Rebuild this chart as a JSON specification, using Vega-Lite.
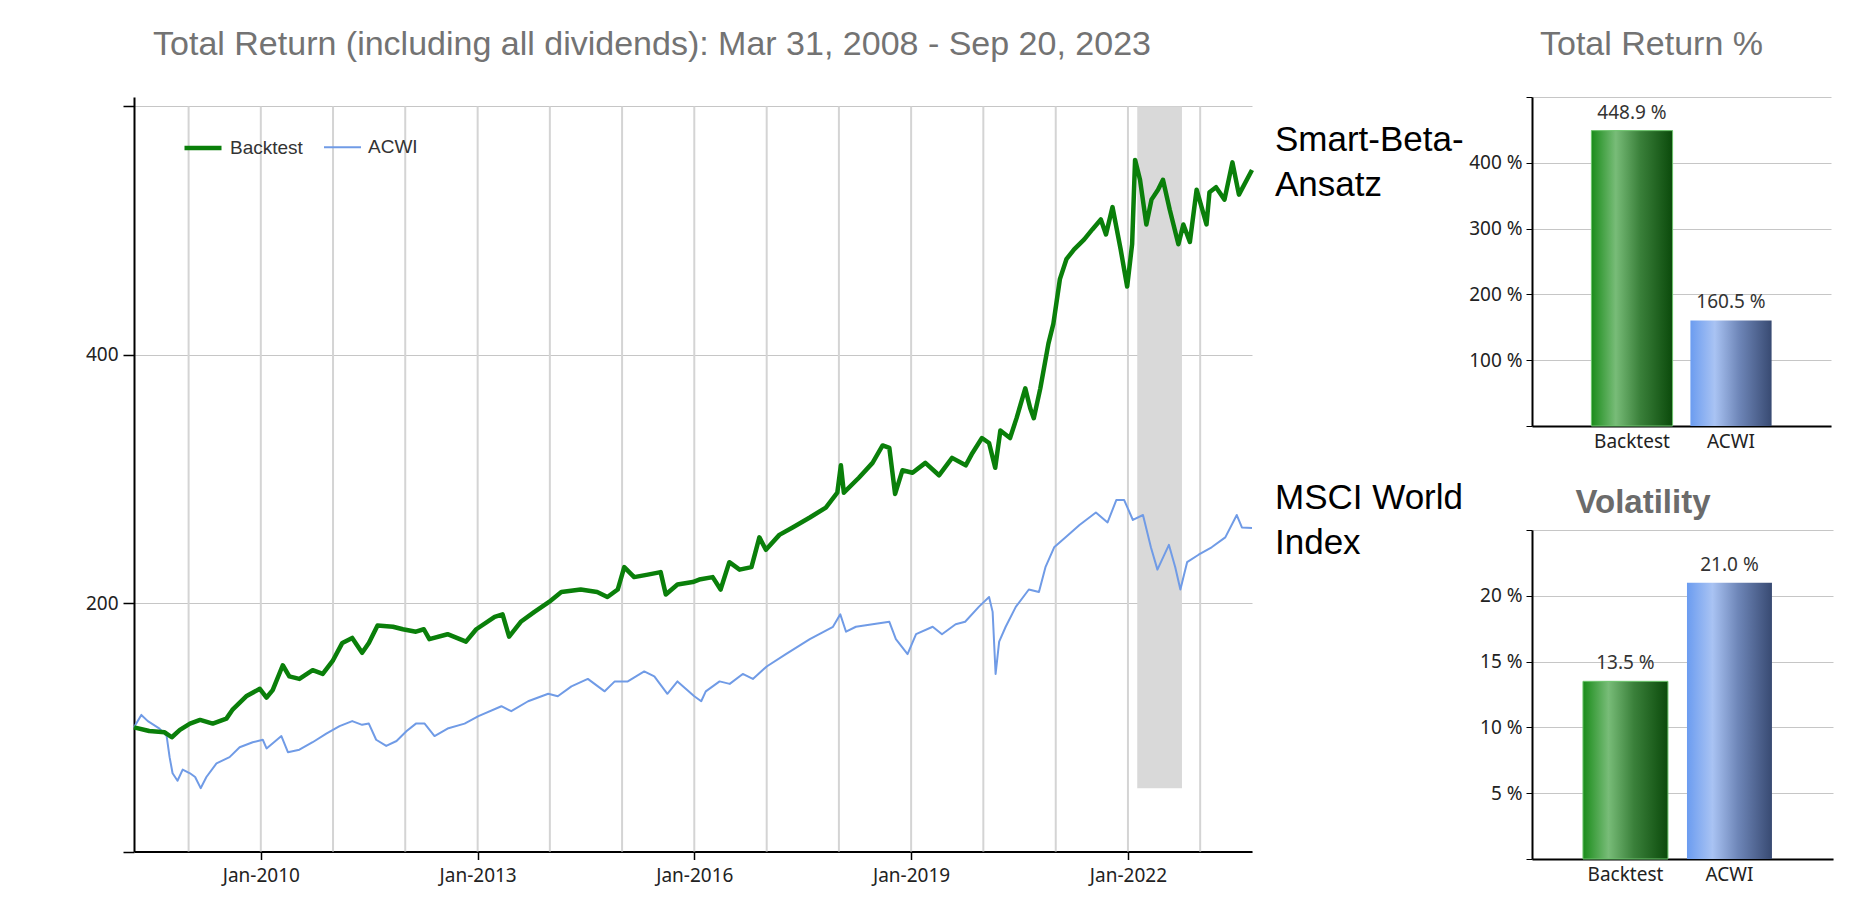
{
"$schema": "https://vega.github.io/schema/vega-lite/v6.json",
"background": "white",
"padding": {"left": 85, "top": 27, "right": 10, "bottom": 0},
"spacing": 4,
"align": "none",
"datasets": {
"years": [{"jan": "2009-01-01"}, {"jan": "2010-01-01"}, {"jan": "2011-01-01"}, {"jan": "2012-01-01"}, {"jan": "2013-01-01"}, {"jan": "2014-01-01"}, {"jan": "2015-01-01"}, {"jan": "2016-01-01"}, {"jan": "2017-01-01"}, {"jan": "2018-01-01"}, {"jan": "2019-01-01"}, {"jan": "2020-01-01"}, {"jan": "2021-01-01"}, {"jan": "2022-01-01"}, {"jan": "2023-01-01"}],
"band": [{"start": "2022-02-17", "end": "2022-10-01", "lo": 51, "hi": 600}],
"notes": [
{"series": "Backtest", "date": "2023-09-20", "value": 548.9, "note": "Smart-Beta-\nAnsatz"},
{"series": "ACWI", "date": "2023-09-20", "value": 260.5, "note": "MSCI World\nIndex"}
],
"tr": [{"series": "Backtest", "value": 448.9}, {"series": "ACWI", "value": 160.5}],
"vol": [{"series": "Backtest", "value": 13.5}, {"series": "ACWI", "value": 21.0}],
"lines": [
{"series":"ACWI","date":"2008-03-31","value":100},
{"series":"ACWI","date":"2008-05-07","value":110},
{"series":"ACWI","date":"2008-06-09","value":105},
{"series":"ACWI","date":"2008-08-07","value":99},
{"series":"ACWI","date":"2008-09-12","value":93},
{"series":"ACWI","date":"2008-09-27","value":76},
{"series":"ACWI","date":"2008-10-12","value":63},
{"series":"ACWI","date":"2008-11-06","value":57},
{"series":"ACWI","date":"2008-12-02","value":66},
{"series":"ACWI","date":"2009-01-08","value":63},
{"series":"ACWI","date":"2009-02-03","value":60},
{"series":"ACWI","date":"2009-03-03","value":51},
{"series":"ACWI","date":"2009-04-01","value":60},
{"series":"ACWI","date":"2009-05-22","value":71},
{"series":"ACWI","date":"2009-07-27","value":76},
{"series":"ACWI","date":"2009-09-16","value":84},
{"series":"ACWI","date":"2009-11-21","value":88},
{"series":"ACWI","date":"2010-01-11","value":90},
{"series":"ACWI","date":"2010-01-30","value":83},
{"series":"ACWI","date":"2010-04-15","value":93},
{"series":"ACWI","date":"2010-05-18","value":80},
{"series":"ACWI","date":"2010-07-15","value":82},
{"series":"ACWI","date":"2010-09-20","value":88},
{"series":"ACWI","date":"2010-11-28","value":95},
{"series":"ACWI","date":"2011-02-03","value":101},
{"series":"ACWI","date":"2011-04-08","value":105},
{"series":"ACWI","date":"2011-05-28","value":102},
{"series":"ACWI","date":"2011-07-01","value":103},
{"series":"ACWI","date":"2011-08-07","value":90},
{"series":"ACWI","date":"2011-09-27","value":85},
{"series":"ACWI","date":"2011-11-18","value":89},
{"series":"ACWI","date":"2012-01-08","value":97},
{"series":"ACWI","date":"2012-02-24","value":103},
{"series":"ACWI","date":"2012-04-08","value":103},
{"series":"ACWI","date":"2012-05-28","value":93},
{"series":"ACWI","date":"2012-08-02","value":99},
{"series":"ACWI","date":"2012-10-27","value":103},
{"series":"ACWI","date":"2013-01-05","value":109},
{"series":"ACWI","date":"2013-05-01","value":117},
{"series":"ACWI","date":"2013-06-20","value":113},
{"series":"ACWI","date":"2013-09-13","value":121},
{"series":"ACWI","date":"2013-12-24","value":127},
{"series":"ACWI","date":"2014-02-10","value":125},
{"series":"ACWI","date":"2014-04-20","value":133},
{"series":"ACWI","date":"2014-07-12","value":139},
{"series":"ACWI","date":"2014-10-05","value":129},
{"series":"ACWI","date":"2014-11-25","value":137},
{"series":"ACWI","date":"2015-01-30","value":137},
{"series":"ACWI","date":"2015-04-23","value":145},
{"series":"ACWI","date":"2015-06-13","value":141},
{"series":"ACWI","date":"2015-08-18","value":127},
{"series":"ACWI","date":"2015-10-08","value":137},
{"series":"ACWI","date":"2016-01-01","value":125},
{"series":"ACWI","date":"2016-02-05","value":121},
{"series":"ACWI","date":"2016-02-28","value":129},
{"series":"ACWI","date":"2016-05-08","value":137},
{"series":"ACWI","date":"2016-06-28","value":135},
{"series":"ACWI","date":"2016-09-02","value":143},
{"series":"ACWI","date":"2016-10-23","value":139},
{"series":"ACWI","date":"2017-01-01","value":149},
{"series":"ACWI","date":"2017-04-08","value":159},
{"series":"ACWI","date":"2017-08-07","value":171},
{"series":"ACWI","date":"2017-12-02","value":181},
{"series":"ACWI","date":"2018-01-08","value":191},
{"series":"ACWI","date":"2018-02-06","value":177},
{"series":"ACWI","date":"2018-03-28","value":181},
{"series":"ACWI","date":"2018-06-20","value":183},
{"series":"ACWI","date":"2018-09-13","value":185},
{"series":"ACWI","date":"2018-10-16","value":171},
{"series":"ACWI","date":"2018-12-14","value":159},
{"series":"ACWI","date":"2019-01-26","value":175},
{"series":"ACWI","date":"2019-04-20","value":181},
{"series":"ACWI","date":"2019-06-06","value":175},
{"series":"ACWI","date":"2019-08-14","value":183},
{"series":"ACWI","date":"2019-10-01","value":185},
{"series":"ACWI","date":"2019-12-09","value":197},
{"series":"ACWI","date":"2020-01-30","value":205},
{"series":"ACWI","date":"2020-02-17","value":193},
{"series":"ACWI","date":"2020-03-03","value":143},
{"series":"ACWI","date":"2020-03-21","value":169},
{"series":"ACWI","date":"2020-04-23","value":181},
{"series":"ACWI","date":"2020-06-13","value":197},
{"series":"ACWI","date":"2020-08-18","value":211},
{"series":"ACWI","date":"2020-10-08","value":209},
{"series":"ACWI","date":"2020-11-10","value":229},
{"series":"ACWI","date":"2020-12-24","value":245},
{"series":"ACWI","date":"2021-02-20","value":253},
{"series":"ACWI","date":"2021-05-01","value":263},
{"series":"ACWI","date":"2021-07-23","value":273},
{"series":"ACWI","date":"2021-09-20","value":265},
{"series":"ACWI","date":"2021-11-03","value":283},
{"series":"ACWI","date":"2021-12-13","value":283},
{"series":"ACWI","date":"2022-01-26","value":267},
{"series":"ACWI","date":"2022-03-18","value":271},
{"series":"ACWI","date":"2022-04-27","value":245},
{"series":"ACWI","date":"2022-05-30","value":227},
{"series":"ACWI","date":"2022-07-27","value":247},
{"series":"ACWI","date":"2022-08-28","value":229},
{"series":"ACWI","date":"2022-09-23","value":211},
{"series":"ACWI","date":"2022-10-27","value":233},
{"series":"ACWI","date":"2022-12-24","value":239},
{"series":"ACWI","date":"2023-02-28","value":245},
{"series":"ACWI","date":"2023-05-08","value":253},
{"series":"ACWI","date":"2023-07-05","value":271},
{"series":"ACWI","date":"2023-07-31","value":261},
{"series":"ACWI","date":"2023-09-20","value":260.5},
{"series":"Backtest","date":"2008-03-31","value":100},
{"series":"Backtest","date":"2008-06-16","value":97},
{"series":"Backtest","date":"2008-09-02","value":96},
{"series":"Backtest","date":"2008-10-08","value":92},
{"series":"Backtest","date":"2008-11-18","value":98},
{"series":"Backtest","date":"2009-01-08","value":103},
{"series":"Backtest","date":"2009-02-28","value":106},
{"series":"Backtest","date":"2009-05-03","value":103},
{"series":"Backtest","date":"2009-07-11","value":107},
{"series":"Backtest","date":"2009-08-10","value":114},
{"series":"Backtest","date":"2009-10-19","value":125},
{"series":"Backtest","date":"2009-12-27","value":131},
{"series":"Backtest","date":"2010-01-30","value":124},
{"series":"Backtest","date":"2010-03-02","value":130},
{"series":"Backtest","date":"2010-04-22","value":150},
{"series":"Backtest","date":"2010-05-25","value":141},
{"series":"Backtest","date":"2010-07-15","value":139},
{"series":"Backtest","date":"2010-09-20","value":146},
{"series":"Backtest","date":"2010-11-10","value":143},
{"series":"Backtest","date":"2011-01-01","value":154},
{"series":"Backtest","date":"2011-02-17","value":168},
{"series":"Backtest","date":"2011-04-08","value":172},
{"series":"Backtest","date":"2011-05-28","value":160},
{"series":"Backtest","date":"2011-07-01","value":168},
{"series":"Backtest","date":"2011-08-14","value":182},
{"series":"Backtest","date":"2011-10-31","value":181},
{"series":"Backtest","date":"2011-12-20","value":179},
{"series":"Backtest","date":"2012-02-24","value":177},
{"series":"Backtest","date":"2012-04-04","value":179},
{"series":"Backtest","date":"2012-05-02","value":171},
{"series":"Backtest","date":"2012-08-02","value":175},
{"series":"Backtest","date":"2012-11-03","value":169},
{"series":"Backtest","date":"2012-12-25","value":179},
{"series":"Backtest","date":"2013-03-28","value":189},
{"series":"Backtest","date":"2013-05-07","value":191},
{"series":"Backtest","date":"2013-06-09","value":173},
{"series":"Backtest","date":"2013-08-07","value":185},
{"series":"Backtest","date":"2013-10-15","value":193},
{"series":"Backtest","date":"2013-12-28","value":201},
{"series":"Backtest","date":"2014-02-28","value":209},
{"series":"Backtest","date":"2014-06-06","value":211},
{"series":"Backtest","date":"2014-08-28","value":209},
{"series":"Backtest","date":"2014-10-19","value":205},
{"series":"Backtest","date":"2014-12-10","value":211},
{"series":"Backtest","date":"2015-01-12","value":229},
{"series":"Backtest","date":"2015-03-03","value":221},
{"series":"Backtest","date":"2015-05-11","value":223},
{"series":"Backtest","date":"2015-07-15","value":225},
{"series":"Backtest","date":"2015-08-10","value":207},
{"series":"Backtest","date":"2015-10-08","value":215},
{"series":"Backtest","date":"2015-12-24","value":217},
{"series":"Backtest","date":"2016-01-26","value":219},
{"series":"Backtest","date":"2016-04-03","value":221},
{"series":"Backtest","date":"2016-05-13","value":211},
{"series":"Backtest","date":"2016-06-26","value":233},
{"series":"Backtest","date":"2016-08-17","value":227},
{"series":"Backtest","date":"2016-10-16","value":229},
{"series":"Backtest","date":"2016-11-25","value":253},
{"series":"Backtest","date":"2016-12-28","value":243},
{"series":"Backtest","date":"2017-03-06","value":255},
{"series":"Backtest","date":"2017-05-12","value":261},
{"series":"Backtest","date":"2017-08-07","value":269},
{"series":"Backtest","date":"2017-10-27","value":277},
{"series":"Backtest","date":"2017-12-24","value":289},
{"series":"Backtest","date":"2018-01-11","value":311},
{"series":"Backtest","date":"2018-01-26","value":289},
{"series":"Backtest","date":"2018-04-12","value":301},
{"series":"Backtest","date":"2018-06-20","value":313},
{"series":"Backtest","date":"2018-08-10","value":327},
{"series":"Backtest","date":"2018-09-13","value":325},
{"series":"Backtest","date":"2018-10-12","value":288},
{"series":"Backtest","date":"2018-11-18","value":307},
{"series":"Backtest","date":"2019-01-08","value":305},
{"series":"Backtest","date":"2019-03-14","value":313},
{"series":"Backtest","date":"2019-05-22","value":303},
{"series":"Backtest","date":"2019-07-27","value":317},
{"series":"Backtest","date":"2019-10-04","value":311},
{"series":"Backtest","date":"2019-11-07","value":321},
{"series":"Backtest","date":"2019-12-25","value":333},
{"series":"Backtest","date":"2020-01-30","value":329},
{"series":"Backtest","date":"2020-03-01","value":309},
{"series":"Backtest","date":"2020-03-27","value":339},
{"series":"Backtest","date":"2020-05-15","value":333},
{"series":"Backtest","date":"2020-06-17","value":349},
{"series":"Backtest","date":"2020-07-31","value":373},
{"series":"Backtest","date":"2020-08-25","value":357},
{"series":"Backtest","date":"2020-09-12","value":349},
{"series":"Backtest","date":"2020-10-15","value":373},
{"series":"Backtest","date":"2020-11-25","value":409},
{"series":"Backtest","date":"2020-12-20","value":425},
{"series":"Backtest","date":"2021-01-22","value":461},
{"series":"Backtest","date":"2021-02-24","value":477},
{"series":"Backtest","date":"2021-04-04","value":485},
{"series":"Backtest","date":"2021-05-25","value":493},
{"series":"Backtest","date":"2021-07-05","value":501},
{"series":"Backtest","date":"2021-08-17","value":509},
{"series":"Backtest","date":"2021-09-12","value":497},
{"series":"Backtest","date":"2021-10-15","value":519},
{"series":"Backtest","date":"2021-11-25","value":485},
{"series":"Backtest","date":"2021-12-28","value":455},
{"series":"Backtest","date":"2022-01-22","value":489},
{"series":"Backtest","date":"2022-02-06","value":557},
{"series":"Backtest","date":"2022-03-03","value":541},
{"series":"Backtest","date":"2022-04-04","value":505},
{"series":"Backtest","date":"2022-04-30","value":525},
{"series":"Backtest","date":"2022-06-02","value":533},
{"series":"Backtest","date":"2022-06-27","value":541},
{"series":"Backtest","date":"2022-07-31","value":517},
{"series":"Backtest","date":"2022-09-13","value":489},
{"series":"Backtest","date":"2022-10-08","value":505},
{"series":"Backtest","date":"2022-11-10","value":491},
{"series":"Backtest","date":"2022-12-14","value":533},
{"series":"Backtest","date":"2023-02-02","value":505},
{"series":"Backtest","date":"2023-02-17","value":531},
{"series":"Backtest","date":"2023-03-22","value":535},
{"series":"Backtest","date":"2023-05-04","value":525},
{"series":"Backtest","date":"2023-06-13","value":555},
{"series":"Backtest","date":"2023-07-16","value":529},
{"series":"Backtest","date":"2023-09-20","value":548.9}
]
},
"hconcat": [
{
"width": 1118,
"height": 754.5,
"title": {"text": "Total Return (including all dividends): Mar 31, 2008 - Sep 20, 2023", "fontSize": 34, "font": "Liberation Sans", "fontWeight": "normal", "color": "#737373", "anchor": "middle", "frame": "group", "dx": -41, "baseline": "alphabetic", "offset": 8},
"resolve": {"axis": {"x": "independent"}},
"layer": [
{
"data": {"name": "years"},
"mark": {"type": "rule", "color": "#d4d4d4", "strokeWidth": 2},
"encoding": {
"x": {"field": "jan", "type": "temporal", "axis": null,
"scale": {"domain": [{"year": 2008, "month": 3, "date": 31}, {"year": 2023, "month": 9, "date": 20}], "nice": false}},
"y": {"datum": 0, "type": "quantitative", "title": null, "scale": {"domain": [0, 607.65], "nice": false}},
"y2": {"datum": 600}
}
},
{
"data": {"name": "band"},
"mark": {"type": "rect", "color": "#d9d9d9"},
"encoding": {
"x": {"field": "start", "type": "temporal", "title": null, "axis": null,
"scale": {"domain": [{"year": 2008, "month": 3, "date": 31}, {"year": 2023, "month": 9, "date": 20}], "nice": false}},
"x2": {"field": "end"},
"y": {"field": "lo", "type": "quantitative", "title": null, "scale": {"domain": [0, 607.65], "nice": false}},
"y2": {"field": "hi"}
}
},
{
"data": {"name": "lines"},
"mark": {"type": "line", "strokeJoin": "round"},
"encoding": {
"x": {"field": "date", "type": "temporal", "title": null,
"scale": {"domain": [{"year": 2008, "month": 3, "date": 31}, {"year": 2023, "month": 9, "date": 20}], "nice": false},
"axis": {"orient": "bottom", "grid": false, "format": "%b-%Y", "tickSize": 8, "tickWidth": 1.5, "domainWidth": 2, "labelPadding": 7,
"values": [{"year": 2010, "month": 1, "date": 1}, {"year": 2013, "month": 1, "date": 1}, {"year": 2016, "month": 1, "date": 1}, {"year": 2019, "month": 1, "date": 1}, {"year": 2022, "month": 1, "date": 1}]}},
"y": {"field": "value", "type": "quantitative", "title": null, "scale": {"domain": [0, 607.65], "nice": false},
"axis": {"values": [0, 200, 400, 600], "labelExpr": "datum.value == 200 || datum.value == 400 ? datum.label : ''", "tickSize": 11, "tickWidth": 1.5, "domainWidth": 2, "grid": true, "gridColor": "#c6c6c6", "gridWidth": 1, "labelPadding": 5}},
"color": {"field": "series", "type": "nominal",
"scale": {"domain": ["Backtest", "ACWI"], "range": ["#0a7f0a", "#709be6"]},
"legend": {"orient": "none", "legendX": 48, "legendY": 30, "direction": "horizontal", "title": null, "symbolType": "stroke", "symbolSize": 1369, "symbolStrokeWidth": 3, "labelFont": "Liberation Sans", "labelFontSize": 19, "labelColor": "#333333", "labelOffset": 6, "columnPadding": 17, "padding": 0}},
"strokeWidth": {"field": "series", "type": "nominal", "scale": {"domain": ["Backtest", "ACWI"], "range": [4.5, 2]}, "legend": null}
}
},
{
"data": {"name": "notes"},
"mark": {"type": "text", "align": "left", "baseline": "middle", "dx": 23, "dy": -30, "fontSize": 35, "font": "Liberation Sans", "color": "#000000", "lineBreak": "\n", "lineHeight": 45},
"encoding": {
"x": {"field": "date", "type": "temporal", "axis": null,
"scale": {"domain": [{"year": 2008, "month": 3, "date": 31}, {"year": 2023, "month": 9, "date": 20}], "nice": false}},
"y": {"field": "value", "type": "quantitative", "title": null, "scale": {"domain": [0, 607.65], "nice": false}},
"text": {"field": "note"}
}
}
]
},
{
"spacing": 35,
"align": "none",
"vconcat": [
{
"width": 299,
"height": 329,
"data": {"name": "tr"},
"title": {"text": "Total Return %", "fontSize": 34, "font": "Liberation Sans", "fontWeight": "normal", "color": "#737373", "baseline": "alphabetic", "offset": 8, "anchor": "middle", "frame": "group", "dx": -30},
"encoding": {
"x": {"field": "series", "type": "nominal", "sort": ["Backtest", "ACWI"], "title": null,
"scale": {"paddingInner": 0.18, "paddingOuter": 0.6},
"axis": {"labelAngle": 0, "ticks": false, "domainWidth": 2, "labelPadding": 6}},
"y": {"field": "value", "type": "quantitative", "title": null,
"scale": {"domain": [0, 500], "nice": false},
"axis": {"values": [0, 100, 200, 300, 400, 500], "labelExpr": "datum.value > 0 && datum.value < 500 ? datum.value + ' %' : ''", "tickSize": 6, "domainWidth": 2, "grid": true, "gridColor": "#c6c6c6", "labelPadding": 4}}
},
"layer": [
{"transform": [{"filter": "datum.series === 'Backtest'"}],
"mark": {"type": "bar", "stroke": "#6cc46c", "strokeWidth": 1,
"fill": {"gradient": "linear", "x1": 0, "y1": 0, "x2": 1, "y2": 0, "stops": [{"offset": 0, "color": "#1a8c1a"}, {"offset": 0.3, "color": "#78bc78"}, {"offset": 0.6, "color": "#3a803a"}, {"offset": 1, "color": "#0b4a0b"}]}}},
{"transform": [{"filter": "datum.series === 'ACWI'"}],
"mark": {"type": "bar",
"fill": {"gradient": "linear", "x1": 0, "y1": 0, "x2": 1, "y2": 0, "stops": [{"offset": 0, "color": "#6b9cf0"}, {"offset": 0.3, "color": "#a9c3f3"}, {"offset": 0.6, "color": "#6e86b8"}, {"offset": 1, "color": "#384a72"}]}}},
{"transform": [{"calculate": "format(datum.value, '.1f') + ' %'", "as": "lbl"}],
"mark": {"type": "text", "baseline": "alphabetic", "dy": -12, "fontSize": 19, "font": "Noto Sans", "color": "#333333"},
"encoding": {"text": {"field": "lbl"}}}
]
},
{
"width": 301,
"height": 329,
"data": {"name": "vol"},
"title": {"text": "Volatility", "fontSize": 33, "font": "Liberation Sans", "fontWeight": "bold", "color": "#6b6b6b", "baseline": "alphabetic", "offset": -16, "anchor": "middle", "frame": "group", "dx": -39.5},
"encoding": {
"x": {"field": "series", "type": "nominal", "sort": ["Backtest", "ACWI"], "title": null,
"scale": {"paddingInner": 0.183, "paddingOuter": 0.5385, "align": 0.455},
"axis": {"labelAngle": 0, "ticks": false, "domainWidth": 2, "labelPadding": 6}},
"y": {"field": "value", "type": "quantitative", "title": null,
"scale": {"domain": [0, 25], "nice": false},
"axis": {"values": [0, 5, 10, 15, 20, 25], "labelExpr": "datum.value > 0 && datum.value < 25 ? datum.value + ' %' : ''", "tickSize": 6, "domainWidth": 2, "grid": true, "gridColor": "#c6c6c6", "labelPadding": 4}}
},
"layer": [
{"transform": [{"filter": "datum.series === 'Backtest'"}],
"mark": {"type": "bar", "stroke": "#6cc46c", "strokeWidth": 1,
"fill": {"gradient": "linear", "x1": 0, "y1": 0, "x2": 1, "y2": 0, "stops": [{"offset": 0, "color": "#1a8c1a"}, {"offset": 0.3, "color": "#78bc78"}, {"offset": 0.6, "color": "#3a803a"}, {"offset": 1, "color": "#0b4a0b"}]}}},
{"transform": [{"filter": "datum.series === 'ACWI'"}],
"mark": {"type": "bar",
"fill": {"gradient": "linear", "x1": 0, "y1": 0, "x2": 1, "y2": 0, "stops": [{"offset": 0, "color": "#6b9cf0"}, {"offset": 0.3, "color": "#a9c3f3"}, {"offset": 0.6, "color": "#6e86b8"}, {"offset": 1, "color": "#384a72"}]}}},
{"transform": [{"calculate": "format(datum.value, '.1f') + ' %'", "as": "lbl"}],
"mark": {"type": "text", "baseline": "alphabetic", "dy": -12, "fontSize": 19, "font": "Noto Sans", "color": "#333333"},
"encoding": {"text": {"field": "lbl"}}}
]
}
]
}
],
"config": {
"view": {"stroke": null},
"axis": {"labelFont": "Noto Sans", "labelFontSize": 19, "labelColor": "#222222", "domainColor": "#000000", "tickColor": "#000000"}
}
}
